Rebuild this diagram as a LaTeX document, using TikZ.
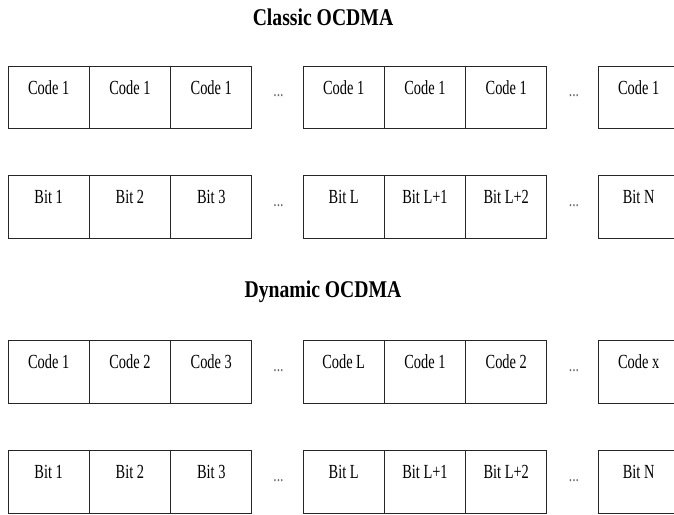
\documentclass[tikz,border=0pt]{standalone}
\usepackage{fontspec}
\setmainfont{Liberation Serif}
\newfontfamily\cellfont[FakeStretch=0.72]{Liberation Serif}
\newfontfamily\headfont[FakeStretch=0.82]{Liberation Serif}
\begin{document}
\begin{tikzpicture}[x=1pt,y=-1pt,
  cell/.style={draw=black!85,line width=0.9pt,rectangle,anchor=north west,
    minimum width=81.3pt,inner xsep=0pt,inner ysep=0pt,outer sep=0pt,
    text height=28pt,text depth=34.5pt,
    font=\cellfont\fontsize{20}{24}\selectfont},
  dotsnode/.style={anchor=base,inner sep=0pt,text=black!60,
    font=\cellfont\fontsize{19}{22}\selectfont},
  headtitle/.style={anchor=base,inner sep=0pt,
    font=\headfont\bfseries\fontsize{24}{28}\selectfont}]
\useasboundingbox (0,0) rectangle (674,514);
\clip (0,0) rectangle (674,514);
\fill[white] (0,0) rectangle (674,514);
% titles
\node[headtitle] (t1) at (323,25) {Classic OCDMA};
\node[headtitle] (t2) at (323,297.5) {Dynamic OCDMA};
% rows
\foreach \r/\y/\a/\b/\c/\d/\e/\f/\g in {
  1/66/Code 1/Code 1/Code 1/Code 1/Code 1/Code 1/Code 1,
  2/175.5/Bit 1/Bit 2/Bit 3/Bit L/Bit L+1/Bit L+2/Bit N,
  3/340.5/Code 1/Code 2/Code 3/Code L/Code 1/Code 2/Code x,
  4/450.5/Bit 1/Bit 2/Bit 3/Bit L/Bit L+1/Bit L+2/Bit N}{
  \node[cell] (r\r c1) at (8,\y) {\a};
  \node[cell] (r\r c2) at (89.3,\y) {\b};
  \node[cell] (r\r c3) at (170.6,\y) {\c};
  \node[cell] (r\r c4) at (303,\y) {\d};
  \node[cell] (r\r c5) at (384.3,\y) {\e};
  \node[cell] (r\r c6) at (465.6,\y) {\f};
  \node[cell] (r\r c7) at (598,\y) {\g};
  \node[dotsnode] (r\r d1) at (278.5,\y+30.5) {...};
  \node[dotsnode] (r\r d2) at (574,\y+30.5) {...};
}
\end{tikzpicture}
\end{document}
